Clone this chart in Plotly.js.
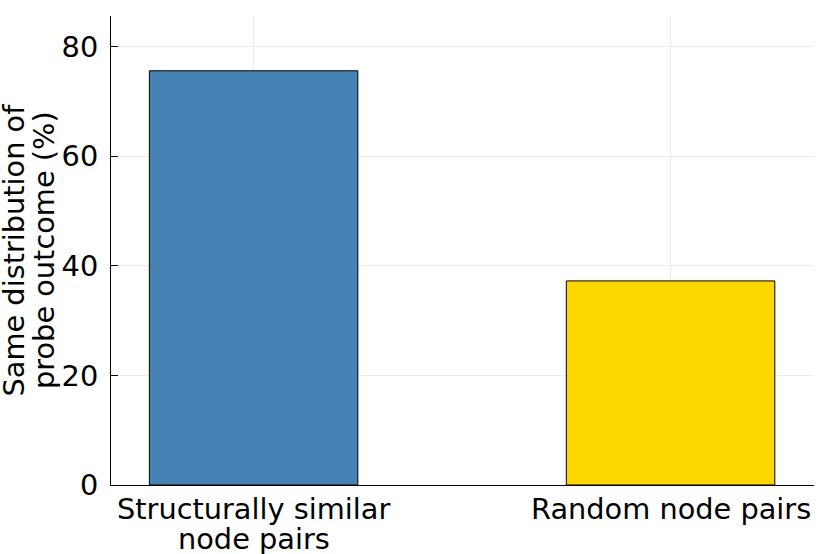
<!DOCTYPE html>
<html>
<head>
<meta charset="utf-8">
<script src="https://cdn.plot.ly/plotly-3.0.1.min.js"></script>
<style>html,body{margin:0;padding:0;background:#fff;}#chart{width:830px;height:554px;}</style>
</head>
<body>
<div id="chart"></div>
<script>
// Data
const categories = ["Structurally similar<br>node pairs", "Random node pairs"];
const values = [75.6, 37.25];
const barColors = ["#4682B4", "#FFD700"];
const yTickVals = [0, 20, 40, 60, 80];
const yTitleLines = ["Same distribution of", "probe outcome (%)"];

const FONT = "DejaVu Sans";
const FS = 28.8;

const trace = {
  type: "bar",
  x: categories,
  y: values,
  width: 0.5,
  marker: {color: barColors, line: {color: "#000000", width: 1}},
  hoverinfo: "none"
};

const annotations = [];
categories.forEach((cat, i) => {
  cat.split("<br>").forEach((line, j) => {
    annotations.push({
      text: line, xref: "x", yref: "paper", x: i, y: 0,
      xanchor: "center", yanchor: "middle", yshift: -23.8 - 30 * j,
      showarrow: false, font: {family: FONT, size: FS, color: "#000"}
    });
  });
});
yTitleLines.forEach((line, j) => {
  annotations.push({
    text: line, xref: "paper", yref: "paper", x: 0, y: 0.5,
    xanchor: "center", yanchor: "middle", xshift: -98 + 30.5 * j,
    textangle: -90, showarrow: false, font: {family: FONT, size: FS, color: "#000"}
  });
});

const layout = {
  width: 830, height: 554,
  margin: {l: 111, r: 16, t: 16, b: 69, pad: 0},
  paper_bgcolor: "#fff", plot_bgcolor: "#fff",
  font: {family: FONT, size: FS, color: "#000"},
  showlegend: false,
  xaxis: {
    type: "category", range: [-0.342, 1.344],
    showticklabels: false, ticks: "",
    showgrid: true, gridcolor: "#ececec", gridwidth: 1,
    showline: true, linecolor: "#000", linewidth: 1, zeroline: false, mirror: false
  },
  yaxis: {
    range: [0, 85.6], tickvals: yTickVals, ticktext: yTickVals.map(String),
    ticks: "inside", ticklen: 7, tickcolor: "#000", tickwidth: 1,
    ticklabelstandoff: 6,
    tickfont: {family: FONT, size: FS, color: "#000"},
    showgrid: true, gridcolor: "#ececec", gridwidth: 1,
    showline: true, linecolor: "#000", linewidth: 1, zeroline: false, mirror: false
  },
  annotations: annotations
};

Plotly.newPlot("chart", [trace], layout, {displayModeBar: false, staticPlot: true});
</script>
</body>
</html>
